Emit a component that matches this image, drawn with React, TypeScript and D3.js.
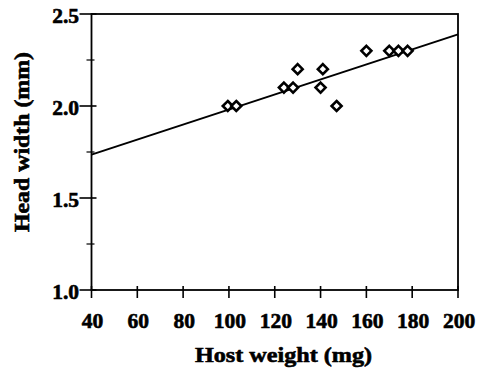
import React from "react";
import * as d3 from "d3";

const hostWeight = [99.5, 103.2, 124, 128, 130, 140, 141, 147, 160, 170, 174, 178];
const headWidth = [2.0, 2.0, 2.1, 2.1, 2.2, 2.1, 2.2, 2.0, 2.3, 2.3, 2.3, 2.3];
const fitX = [40, 200];
const fitY = [1.736, 2.389];
const xTicks = [40, 60, 80, 100, 120, 140, 160, 180, 200];
const yTicks = [1.0, 1.5, 2.0, 2.5];
const yMinor = [1.25, 1.75, 2.25];

export default function App() {
  const W = 478, H = 370;
  const left = 91.5, right = 458, top = 14, bottom = 290;
  const x = d3.scaleLinear().domain([40, 200]).range([left, right]);
  const y = d3.scaleLinear().domain([1.0, 2.5]).range([bottom, top]);
  const line = d3.line<number>().x((_, i) => x(fitX[i])).y((d) => y(d));
  const font = "'Liberation Serif', 'Times New Roman', serif";
  const r = 5;
  const txt = { fontFamily: font, fontWeight: "bold" as const, stroke: "#000", strokeWidth: 0.6 };
  return (
    <svg width={W} height={H} style={{ position: "absolute", left: 0, top: 0, background: "#fff" }}>
      <rect x={left} y={top} width={right - left} height={bottom - top} fill="none" stroke="#000" strokeWidth={1.8} />
      {xTicks.map((t) => (
        <g key={"x" + t}>
          <line x1={x(t)} x2={x(t)} y1={bottom - 4} y2={bottom + 8} stroke="#000" strokeWidth={1.6} />
          <text x={x(t) + 1} y={327.5} textAnchor="middle" fontSize={21.5} {...txt}>{t}</text>
        </g>
      ))}
      {yTicks.map((t) => (
        <g key={"y" + t}>
          <line x1={left - 12} x2={left + 5} y1={y(t)} y2={y(t)} stroke="#000" strokeWidth={1.6} />
          <text x={79} y={y(t) + 9} textAnchor="end" fontSize={21.5} {...txt}>{t.toFixed(1)}</text>
        </g>
      ))}
      {yMinor.map((t) => (
        <line key={"m" + t} x1={left - 5} x2={left + 3} y1={y(t)} y2={y(t)} stroke="#000" strokeWidth={1.2} />
      ))}
      <path d={line(fitY) || ""} fill="none" stroke="#000" strokeWidth={2} />
      {hostWeight.map((hw, i) => {
        const cx = x(hw), cy = y(headWidth[i]);
        return (
          <path key={i} d={`M${cx},${cy - r}L${cx + r},${cy}L${cx},${cy + r}L${cx - r},${cy}Z`} fill="#fff" stroke="#000" strokeWidth={2.6} />
        );
      })}
      <text x={283.5} y={362} textAnchor="middle" fontSize={21.5} textLength={177} lengthAdjust="spacingAndGlyphs" {...txt}>Host weight (mg)</text>
      <text transform={`translate(29,142) rotate(-90)`} textAnchor="middle" fontSize={22} textLength={180} lengthAdjust="spacingAndGlyphs" {...txt}>Head width (mm)</text>
    </svg>
  );
}
